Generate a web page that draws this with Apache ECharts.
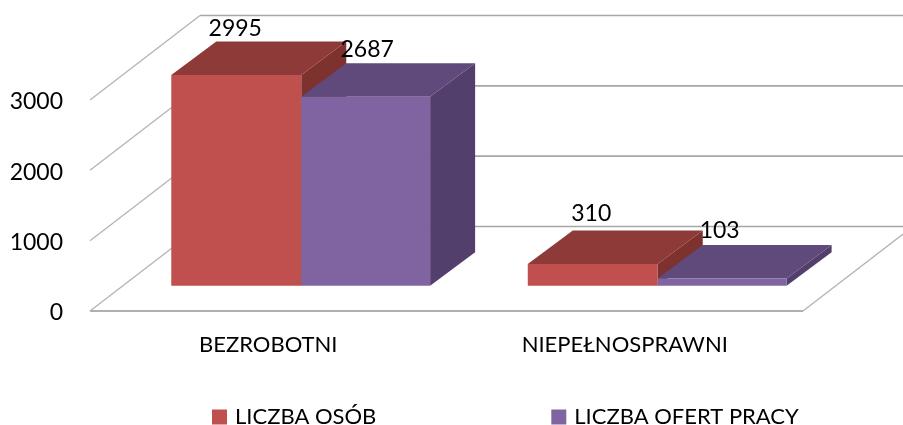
<!DOCTYPE html>
<html><head><meta charset="utf-8">
<style>html,body{margin:0;padding:0;background:#fff}#c{width:903px;height:425px}</style>
<script src="https://cdn.jsdelivr.net/npm/echarts@6/dist/echarts.min.js"></script>
</head><body><div id="c"></div>
<script>
const categories = ['BEZROBOTNI', 'NIEPEŁNOSPRAWNI'];
const liczbaOsob = [2995, 310];
const liczbaOfert = [2687, 103];
const ticks = [0, 1000, 2000, 3000];

const FONT = 'Lato';
const WALL = {dx: 110, dy: -84.5};
const BAR_INSET = {dx: 33, dy: -25.3};
const BAR_DEPTH = {dx: 45, dy: -33.5};
const RED_FRACTION = 0.3646;
const PURPLE_FRACTION = 0.3615;
const RED_NUDGE = [[0, 2.5], [-0.5, -1]];
const PURPLE_NUDGE = [[2.5, 2], [-1.5, 1.5]];

function barRenderer(dir, frac, front, top, side) {
  return function (params, api) {
    const i = api.value(0), v = api.value(1);
    const w = api.size([1, 0])[0] * frac;
    const c = api.coord([i, v]), b = api.coord([i, 0]);
    const x0 = c[0] + (dir < 0 ? -w : 0) + BAR_INSET.dx, x1 = x0 + w;
    const yt = c[1] + BAR_INSET.dy, yb = b[1] + BAR_INSET.dy;
    const d = BAR_DEPTH;
    const poly = (pts, fill) => ({type: 'polygon', shape: {points: pts}, style: {fill: fill}});
    return {type: 'group', children: [
      poly([[x1, yb], [x1 + d.dx, yb + d.dy], [x1 + d.dx, yt + d.dy], [x1, yt]], side),
      poly([[x0, yt], [x1, yt], [x1 + d.dx, yt + d.dy], [x0 + d.dx, yt + d.dy]], top),
      poly([[x0, yb], [x1, yb], [x1, yt], [x0, yt]], front)
    ]};
  };
}
function labelRenderer(dir, frac, nudge) {
  return function (params, api) {
    const i = api.value(0), v = api.value(1);
    const w = api.size([1, 0])[0] * frac;
    const c = api.coord([i, v]);
    return {type: 'text', z2: 100, style: {
      x: c[0] + (dir < 0 ? -w : 0) + BAR_INSET.dx + w / 2 - 1 + nudge[i][0],
      y: c[1] + BAR_INSET.dy - 49 + nudge[i][1],
      text: String(v), fill: '#000', font: '23px ' + FONT, align: 'center', verticalAlign: 'middle'
    }};
  };
}
function wallRenderer(params, api) {
  const t = api.value(0);
  const cs = params.coordSys;
  const y = api.coord([0, t])[1];
  const xl = cs.x, xr = cs.x + cs.width;
  const kids = [
    {type: 'line', shape: {x1: xl, y1: y, x2: xl + WALL.dx, y2: y + WALL.dy}, style: {stroke: '#b4b4b4', lineWidth: 1.3}},
    {type: 'line', shape: {x1: xl + WALL.dx, y1: y + WALL.dy, x2: xr + WALL.dx, y2: y + WALL.dy}, style: {stroke: '#a6a6a6', lineWidth: 1.6}}
  ];
  if (t === 0) {
    kids.push({type: 'line', shape: {x1: xl, y1: y, x2: xr, y2: y}, style: {stroke: '#b0b0b0', lineWidth: 1.8}});
    kids.push({type: 'line', shape: {x1: xr, y1: y, x2: xr + WALL.dx, y2: y + WALL.dy}, style: {stroke: '#b4b4b4', lineWidth: 1.3}});
  }
  return {type: 'group', children: kids};
}
const toData = arr => arr.map((v, i) => [i, v]);

const chart = echarts.init(document.getElementById('c'), null, {renderer: 'canvas'});
chart.setOption({
  animation: false,
  backgroundColor: '#fff',
  textStyle: {fontFamily: FONT},
  grid: {left: 90, right: 100, top: 100, bottom: 114},
  legend: {
    data: ['LICZBA OSÓB', 'LICZBA OFERT PRACY'],
    left: 212, top: 406, padding: 0, itemWidth: 15, itemHeight: 15, itemGap: 175, icon: 'rect',
    textStyle: {fontFamily: FONT, fontSize: 22, color: '#000', padding: [0, 0, 4, 3]},
    selectedMode: false
  },
  xAxis: {
    type: 'category', data: categories,
    axisLine: {show: false}, axisTick: {show: false}, splitLine: {show: false},
    axisLabel: {color: '#000', fontFamily: FONT, fontSize: 22, margin: 23}
  },
  yAxis: {
    type: 'value', min: 0, max: 3000, interval: 1000,
    axisLine: {show: false}, axisTick: {show: false}, splitLine: {show: false},
    axisLabel: {color: '#000', fontFamily: FONT, fontSize: 23, margin: 27, lineHeight: 23, verticalAlign: 'middle', formatter: v => '{n|' + v + '}', rich: {n: {fontFamily: FONT, fontSize: 23, color: '#000', padding: [4, 0, 0, 0]}}}
  },
  series: [
    {type: 'custom', name: 'walls', silent: true, z: 1, clip: false, data: ticks.map(t => [t]),
      encode: {y: 0}, renderItem: wallRenderer},
    {type: 'custom', name: 'LICZBA OSÓB', z: 2, clip: false, data: toData(liczbaOsob),
      encode: {x: 0, y: 1}, itemStyle: {color: '#C0504D'},
      renderItem: barRenderer(-1, RED_FRACTION, '#C0504D', '#8E3A38', '#7D3230')},
    {type: 'custom', name: 'LICZBA OFERT PRACY', z: 3, clip: false, data: toData(liczbaOfert),
      encode: {x: 0, y: 1}, itemStyle: {color: '#8064A2'},
      renderItem: barRenderer(1, PURPLE_FRACTION, '#8064A2', '#604A7B', '#533F6B')},
    {type: 'custom', name: 'lab1', silent: true, z: 5, clip: false, data: toData(liczbaOsob),
      encode: {x: 0, y: 1}, renderItem: labelRenderer(-1, RED_FRACTION, RED_NUDGE)},
    {type: 'custom', name: 'lab2', silent: true, z: 5, clip: false, data: toData(liczbaOfert),
      encode: {x: 0, y: 1}, renderItem: labelRenderer(1, PURPLE_FRACTION, PURPLE_NUDGE)}
  ]
});
</script></body></html>
